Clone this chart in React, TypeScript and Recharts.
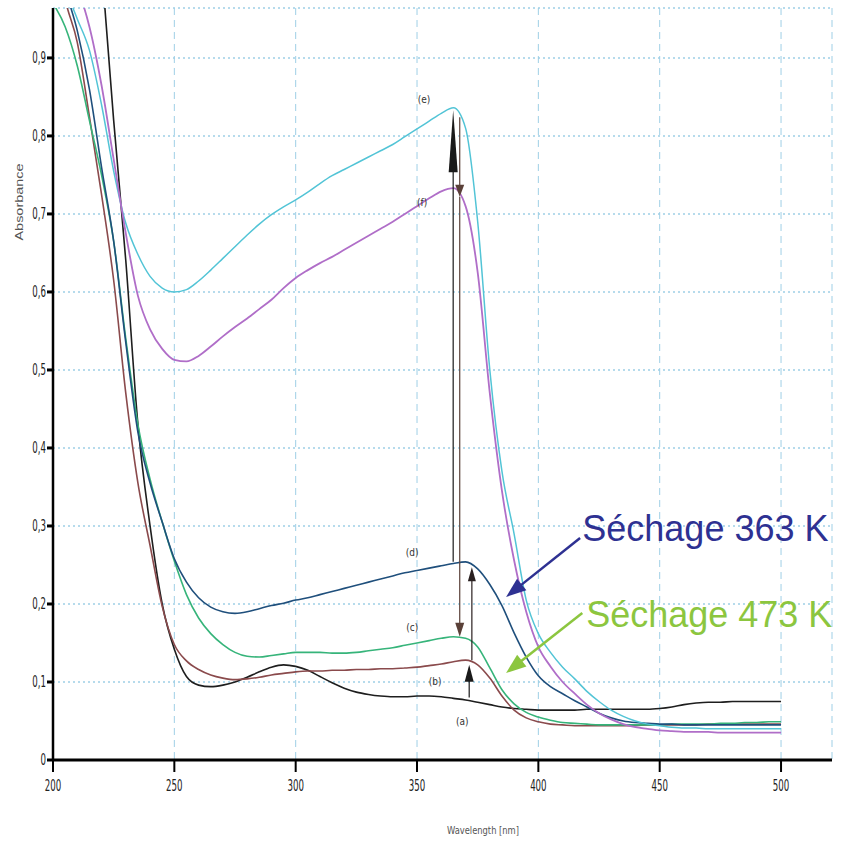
import React from "react";
import {
  LineChart, Line, XAxis, YAxis, CartesianGrid, ReferenceLine, ReferenceDot,
} from "recharts";

// longueurs d'onde (nm), pas de 5 nm
const wavelengths = [
  200, 205, 210, 215, 220, 225, 230, 235, 240, 245, 250, 255, 260, 265, 270, 275, 280, 285, 290, 295,
  300, 305, 310, 315, 320, 325, 330, 335, 340, 345, 350, 355, 360, 365, 370, 375, 380, 385, 390, 395,
  400, 405, 410, 415, 420, 425, 430, 435, 440, 445, 450, 455, 460, 465, 470, 475, 480, 485, 490, 495, 500,
];

// (a) noir
const curveA = [
  1.8, 1.62, 1.42, 1.22, 1.02, 0.82, 0.64, 0.43, 0.3, 0.2, 0.142, 0.107, 0.096, 0.094, 0.096, 0.1, 0.106, 0.113, 0.119, 0.122,
  0.12, 0.115, 0.107, 0.099, 0.092, 0.087, 0.084, 0.082, 0.081, 0.081, 0.082, 0.082, 0.081, 0.079, 0.077, 0.074, 0.071, 0.068, 0.066, 0.065,
  0.064, 0.064, 0.064, 0.064, 0.065, 0.065, 0.065, 0.065, 0.065, 0.065, 0.066, 0.068, 0.071, 0.073, 0.074, 0.074, 0.075, 0.075, 0.075, 0.075, 0.075,
];
// (b) brun
const curveB = [
  1.06, 0.975, 0.92, 0.825, 0.725, 0.615, 0.47, 0.355, 0.275, 0.197, 0.148, 0.127, 0.116, 0.109, 0.105, 0.103, 0.104, 0.106, 0.109, 0.111,
  0.113, 0.114, 0.114, 0.115, 0.115, 0.116, 0.116, 0.117, 0.117, 0.118, 0.119, 0.121, 0.123, 0.126, 0.128, 0.122, 0.105, 0.082, 0.064, 0.054,
  0.049, 0.046, 0.045, 0.044, 0.044, 0.044, 0.044, 0.044, 0.044, 0.045, 0.045, 0.045, 0.045, 0.045, 0.046, 0.046, 0.046, 0.046, 0.046, 0.046, 0.046,
];
// (c) vert
const curveC = [
  0.97, 0.94, 0.89, 0.82, 0.75, 0.665, 0.54, 0.43, 0.36, 0.305, 0.255, 0.212, 0.182, 0.162, 0.148, 0.138, 0.133, 0.132, 0.134, 0.136,
  0.138, 0.138, 0.138, 0.137, 0.137, 0.138, 0.14, 0.142, 0.144, 0.147, 0.15, 0.153, 0.156, 0.158, 0.156, 0.145, 0.118, 0.09, 0.072, 0.061,
  0.055, 0.051, 0.048, 0.047, 0.046, 0.045, 0.045, 0.045, 0.045, 0.045, 0.045, 0.046, 0.046, 0.046, 0.046, 0.047, 0.047, 0.048, 0.048, 0.049, 0.049,
];
// (d) bleu foncé
const curveD = [
  1.06, 0.99, 0.935, 0.86, 0.76, 0.665, 0.535, 0.42, 0.355, 0.305, 0.258, 0.228, 0.208, 0.196, 0.19, 0.188, 0.19, 0.194, 0.198, 0.201,
  0.205, 0.208, 0.212, 0.216, 0.22, 0.224, 0.228, 0.232, 0.236, 0.24, 0.243, 0.246, 0.249, 0.252, 0.254, 0.245, 0.225, 0.198, 0.163, 0.132,
  0.108, 0.094, 0.085, 0.076, 0.068, 0.06, 0.054, 0.05, 0.048, 0.047, 0.046, 0.046, 0.045, 0.045, 0.045, 0.045, 0.045, 0.045, 0.045, 0.045, 0.045,
];
// (e) cyan
const curveE = [
  1.04, 0.99, 0.95, 0.91, 0.84, 0.755, 0.688, 0.648, 0.62, 0.605, 0.6, 0.603, 0.614, 0.628, 0.643, 0.658, 0.673, 0.687, 0.699, 0.709,
  0.718, 0.728, 0.739, 0.749, 0.757, 0.765, 0.773, 0.781, 0.789, 0.799, 0.809, 0.819, 0.829, 0.836, 0.81, 0.69, 0.5, 0.37, 0.29, 0.205,
  0.162, 0.138, 0.119, 0.104, 0.088, 0.075, 0.064, 0.056, 0.05, 0.046, 0.044, 0.042, 0.041, 0.041, 0.04, 0.04, 0.04, 0.04, 0.04, 0.04, 0.04,
];
// (f) violet
const curveF = [
  1.06, 1.02, 0.99, 0.94, 0.865, 0.77, 0.675, 0.595, 0.552, 0.527, 0.513, 0.511, 0.518, 0.53, 0.543, 0.555, 0.566, 0.578, 0.59, 0.605,
  0.618, 0.628, 0.637, 0.645, 0.654, 0.663, 0.672, 0.681, 0.69, 0.7, 0.71, 0.72, 0.729, 0.733, 0.71, 0.625, 0.47, 0.345, 0.256, 0.19,
  0.145, 0.12, 0.1, 0.085, 0.071, 0.06, 0.052, 0.046, 0.042, 0.04, 0.038, 0.037, 0.036, 0.036, 0.036, 0.035, 0.035, 0.035, 0.035, 0.035, 0.035,
];

const xTicks = [200, 250, 300, 350, 400, 450, 500];
const yTicks = [0, 0.1, 0.2, 0.3, 0.4, 0.5, 0.6, 0.7, 0.8, 0.9];

// étiquettes des courbes (nm, absorbance)
const curveLabels = [
  { text: "(e)", x: 352.9, y: 0.842 },
  { text: "(f)", x: 352.1, y: 0.71 },
  { text: "(d)", x: 348, y: 0.2615 },
  { text: "(c)", x: 348, y: 0.1654 },
  { text: "(b)", x: 357.5, y: 0.0962 },
  { text: "(a)", x: 368.6, y: 0.0449 },
];

const data = wavelengths.map((w, i) => ({
  w, a: curveA[i], b: curveB[i], c: curveC[i], d: curveD[i], e: curveE[i], f: curveF[i],
}));

const narrow = "'Liberation Sans Narrow', 'DejaVu Sans Condensed', 'Liberation Sans', sans-serif";
const gridBlue = "#9fcfe6";

const arrowShape = (color: string, width: number, headLen: number, headW: number) => (p: any) => {
  const { x1, y1, x2, y2 } = p;
  const dx = x2 - x1, dy = y2 - y1;
  const len = Math.hypot(dx, dy) || 1;
  const ux = dx / len, uy = dy / len;
  const bx = x2 - ux * headLen, by = y2 - uy * headLen;
  const px = (-uy * headW) / 2, py = (ux * headW) / 2;
  return (
    <g>
      <line x1={x1} y1={y1} x2={bx + ux} y2={by + uy} stroke={color} strokeWidth={width} />
      <polygon points={`${x2},${y2} ${bx + px},${by + py} ${bx - px},${by - py}`} fill={color} />
    </g>
  );
};

const XTick = ({ x, y, payload }: any) => (
  <text transform={`translate(${x},${y + 17}) scale(0.8,1.35)`} textAnchor="middle" fill="#222" fontSize={12} fontFamily={narrow}>
    {payload.value}
  </text>
);

const YTick = ({ x, y, payload }: any) => (
  <text transform={`translate(${x},${y + 5}) scale(0.8,1.3)`} textAnchor="end" fill="#222" fontSize={12} fontFamily={narrow}>
    {payload.value === 0 ? "0" : payload.value.toFixed(1).replace(".", ",")}
  </text>
);

const AbsLabel = ({ viewBox }: any) => {
  const cx = viewBox.x + 19;
  const cy = viewBox.y + 194;
  return (
    <text x={cx} y={cy} transform={`rotate(-90,${cx},${cy})`} textAnchor="middle" dominantBaseline="central"
      fill="#555" fontSize={11} fontFamily="'Liberation Sans', sans-serif" textLength={77} lengthAdjust="spacingAndGlyphs">
      Absorbance
    </text>
  );
};

const WaveLabel = ({ viewBox }: any) => (
  <text x={viewBox.x + 430} y={viewBox.y + 74} textAnchor="middle" fill="#555" fontSize={11} fontFamily={narrow}
    textLength={72} lengthAdjust="spacingAndGlyphs">
    Wavelength [nm]
  </text>
);

const textShape = (text: string, color: string, size: number, anchor: string) => (p: any) => (
  <text x={p.cx} y={p.cy} textAnchor={anchor} fill={color} fontSize={size}
    fontFamily={size > 20 ? "'Liberation Sans', Arial, sans-serif" : narrow}>
    {text}
  </text>
);

export default function App() {
  return (
    <div style={{ position: "absolute", left: 0, top: 0, width: 846, height: 850, background: "#fff" }}>
      <LineChart width={846} height={850} data={data} margin={{ top: 8, right: 14, bottom: 10, left: 0 }}>
        <CartesianGrid vertical={false} stroke={gridBlue} strokeDasharray="2 3" strokeWidth={1.5} />
        <CartesianGrid horizontal={false} stroke={gridBlue} strokeDasharray="7 5" />
        <XAxis
          dataKey="w" type="number" domain={[200, 521]} ticks={xTicks} allowDataOverflow
          height={80} tickSize={12} tickMargin={2} tick={<XTick />}
          axisLine={{ stroke: "#000", strokeWidth: 3 }} tickLine={{ stroke: "#000", strokeWidth: 2 }}
          label={<WaveLabel />}
        />
        <YAxis
          type="number" domain={[0, 0.964]} ticks={yTicks} allowDataOverflow
          width={53} tickSize={6} tickMargin={1} tick={<YTick />}
          axisLine={{ stroke: "#000", strokeWidth: 2.5 }} tickLine={{ stroke: "#000", strokeWidth: 3 }}
          label={<AbsLabel />}
        />
        <Line type="monotone" dataKey="a" stroke="#1e1e1e" strokeWidth={1.6} dot={false} isAnimationActive={false} />
        <Line type="monotone" dataKey="b" stroke="#8a4a4c" strokeWidth={1.6} dot={false} isAnimationActive={false} />
        <Line type="monotone" dataKey="c" stroke="#36b47a" strokeWidth={1.6} dot={false} isAnimationActive={false} />
        <Line type="monotone" dataKey="d" stroke="#1f4f7c" strokeWidth={1.6} dot={false} isAnimationActive={false} />
        <Line type="monotone" dataKey="e" stroke="#52c4d6" strokeWidth={1.5} dot={false} isAnimationActive={false} />
        <Line type="monotone" dataKey="f" stroke="#b06ec8" strokeWidth={1.8} dot={false} isAnimationActive={false} />

        {/* flèches verticales entre les maxima */}
        <ReferenceLine segment={[{ x: 364.9, y: 0.254 }, { x: 364.9, y: 0.833 }]} shape={arrowShape("#1a1a1a", 1.2, 62, 9)} />
        <ReferenceLine segment={[{ x: 367.6, y: 0.824 }, { x: 367.6, y: 0.722 }]} shape={arrowShape("#5a4038", 1.2, 12, 9)} />
        <ReferenceLine segment={[{ x: 367.6, y: 0.722 }, { x: 367.6, y: 0.158 }]} shape={arrowShape("#5a4038", 1.2, 14, 9)} />
        <ReferenceLine segment={[{ x: 372.6, y: 0.128 }, { x: 372.6, y: 0.247 }]} shape={arrowShape("#2a2020", 1.2, 14, 8)} />
        <ReferenceLine segment={[{ x: 371.5, y: 0.08 }, { x: 371.5, y: 0.122 }]} shape={arrowShape("#1a1a1a", 1.2, 17, 9)} />

        {/* flèches des annotations */}
        <ReferenceLine segment={[{ x: 417.2, y: 0.2846 }, { x: 386.7, y: 0.209 }]} shape={arrowShape("#2e3192", 2.5, 20, 15)} />
        <ReferenceLine segment={[{ x: 418.1, y: 0.1885 }, { x: 386.7, y: 0.1115 }]} shape={arrowShape("#8cc63f", 2.5, 20, 15)} />

        {curveLabels.map((l) => (
          <ReferenceDot key={l.text} x={l.x} y={l.y} r={1} shape={textShape(l.text, "#333", 10, "middle")} />
        ))}
        <ReferenceDot x={418.1} y={0.281} r={1} shape={textShape("Séchage 363 K", "#2e3192", 36, "start")} />
        <ReferenceDot x={419.7} y={0.1705} r={1} shape={textShape("Séchage 473 K", "#8cc63f", 36, "start")} />
      </LineChart>
    </div>
  );
}
